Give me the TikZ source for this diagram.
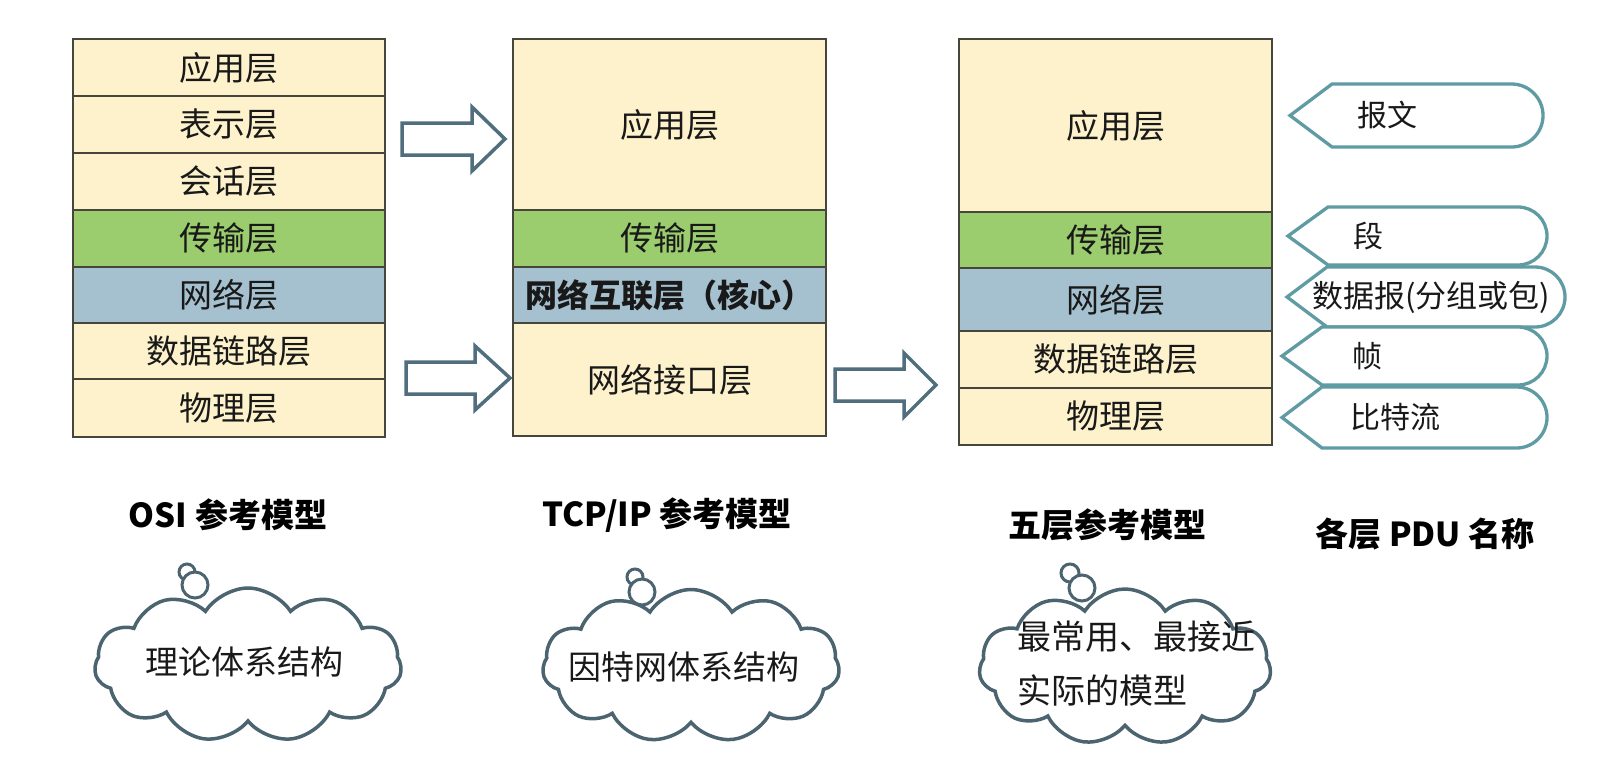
\documentclass[tikz,border=0pt]{standalone}
\usepackage{fontspec}
\setmainfont{Noto Sans CJK SC}
\usetikzlibrary{shapes.symbols}
\definecolor{cream}{RGB}{253,242,204}
\definecolor{lgreen}{RGB}{155,205,110}
\definecolor{lblue}{RGB}{165,193,208}
\definecolor{boxline}{RGB}{70,70,60}
\definecolor{arrline}{RGB}{80,110,125}
\definecolor{pduline}{RGB}{95,155,162}
\definecolor{cloudline}{RGB}{75,100,112}
\definecolor{txt}{RGB}{25,25,25}
\begin{document}
\begin{tikzpicture}[x=1pt,y=-1pt,
  layer/.style={draw=boxline, line width=1.8, minimum width=312, inner sep=0, text=txt, font=\fontsize{33}{38}\selectfont},
  blockarrow/.style={draw=arrline, line width=3.5, fill=white, line join=miter},
  pdushape/.style={draw=pduline, line width=3.3, fill=white, line join=miter},
  pdutext/.style={anchor=west, inner sep=0, text=txt, font=\fontsize{30}{36}\selectfont},
  title/.style={inner sep=0, text=black, font=\fontsize{33}{38}\selectfont\bfseries},
  cloudbox/.style={cloud, cloud puffs=11, cloud puff arc=115, cloud ignores aspect, draw=cloudline, line width=3.5, fill=white, inner sep=0},
  bubble/.style={draw=cloudline, line width=3, fill=white},
  cloudtext/.style={inner sep=0, text=txt, font=\fontsize{33}{54}\selectfont}
]
\fill[white] (0,0) rectangle (1604,756);
\useasboundingbox (0,0) rectangle (1604,756);

% OSI model
\node[layer, fill=cream,  minimum height=57] (o1) at (229,67.5)  {应用层};
\node[layer, fill=cream,  minimum height=57] (o2) at (229,124.5) {表示层};
\node[layer, fill=cream,  minimum height=57] (o3) at (229,181.5) {会话层};
\node[layer, fill=lgreen, minimum height=57] (o4) at (229,238.5) {传输层};
\node[layer, fill=lblue,  minimum height=56] (o5) at (229,295)   {网络层};
\node[layer, fill=cream,  minimum height=56] (o6) at (229,351)   {数据链路层};
\node[layer, fill=cream,  minimum height=58] (o7) at (229,408)   {物理层};

% TCP/IP model
\node[layer, minimum width=313, fill=cream,  minimum height=171] (t1) at (669.5,124.5) {应用层};
\node[layer, minimum width=313, fill=lgreen, minimum height=57]  (t2) at (669.5,238.5) {传输层};
\node[layer, minimum width=313, fill=lblue,  minimum height=56, font=\fontsize{32}{37}\selectfont\bfseries] (t3) at (669.5,295) {网络互联层（核心）};
\node[layer, minimum width=313, fill=cream,  minimum height=113] (t4) at (669.5,379.5) {网络接口层};

% Five-layer model
\node[layer, minimum width=313, fill=cream,  minimum height=173] (f1) at (1115.5,125.5) {应用层};
\node[layer, minimum width=313, fill=lgreen, minimum height=56]  (f2) at (1115.5,240)   {传输层};
\node[layer, minimum width=313, fill=lblue,  minimum height=63]  (f3) at (1115.5,299.5) {网络层};
\node[layer, minimum width=313, fill=cream,  minimum height=57]  (f4) at (1115.5,359.5) {数据链路层};
\node[layer, minimum width=313, fill=cream,  minimum height=57]  (f5) at (1115.5,416.5) {物理层};

% block arrows
\draw[blockarrow] (402,123) -- (472,123) -- (472,107) -- (505,139) -- (472,171) -- (472,155) -- (402,155) -- cycle;
\draw[blockarrow] (406,362) -- (475,362) -- (475,346) -- (510,378) -- (475,410) -- (475,394) -- (406,394) -- cycle;
\draw[blockarrow] (835,369) -- (904,369) -- (904,353) -- (936,385) -- (904,417) -- (904,401) -- (835,401) -- cycle;

% PDU callouts
\draw[pdushape] (1290,115.5) -- (1332,84) -- (1511.5,84) arc[start angle=-90,end angle=90,x radius=31.5,y radius=31.5] -- (1332,147) -- cycle;
\node[pdutext] (p1) at (1357,115.5) {报文};
\draw[pdushape] (1288,236) -- (1328,207) -- (1518,207) arc[start angle=-90,end angle=90,x radius=29,y radius=29] -- (1328,265) -- cycle;
\node[pdutext] (p2) at (1353,236) {段};
\draw[pdushape] (1287,297) -- (1327,267) -- (1535,267) arc[start angle=-90,end angle=90,x radius=30,y radius=30] -- (1327,327) -- cycle;
\node[pdutext, font=\fontsize{31}{36}\selectfont] (p3) at (1312,297) {数据报(分组或包)};
\draw[pdushape] (1282,356) -- (1322,327) -- (1518,327) arc[start angle=-90,end angle=90,x radius=29,y radius=29] -- (1322,385) -- cycle;
\node[pdutext] (p4) at (1352,356) {帧};
\draw[pdushape] (1282,417.5) -- (1322,387) -- (1516.5,387) arc[start angle=-90,end angle=90,x radius=30.5,y radius=30.5] -- (1322,448) -- cycle;
\node[pdutext] (p5) at (1350,417.5) {比特流};

% titles
\node[title] (h1) at (228,515)  {OSI 参考模型};
\node[title] (h2) at (667,515)  {TCP/IP 参考模型};
\node[title] (h3) at (1107,525) {五层参考模型};
\node[title] (h4) at (1425,534) {各层 PDU 名称};

% clouds
\draw[bubble] (187,572) circle[radius=8];
\draw[bubble] (195,585) circle[radius=13];
\node[cloudbox, minimum width=307, minimum height=154] (c1) at (248,665) {};
\node[cloudtext] (c1t) at (244,662) {理论体系结构};

\draw[bubble] (635,577) circle[radius=8];
\draw[bubble] (642,592) circle[radius=13];
\node[cloudbox, minimum width=297, minimum height=153] (c2) at (691,666) {};
\node[cloudtext] (c2t) at (684,667) {因特网体系结构};

\draw[bubble] (1070,573) circle[radius=9];
\draw[bubble] (1082,588) circle[radius=13];
\node[cloudbox, minimum width=292, minimum height=156] (c3) at (1125,667) {};
\node[cloudtext, anchor=west, align=left, font=\fontsize{34}{54}\selectfont] (c3t) at (1017,664) {最常用、最接近\\实际的模型};
\end{tikzpicture}
\end{document}
